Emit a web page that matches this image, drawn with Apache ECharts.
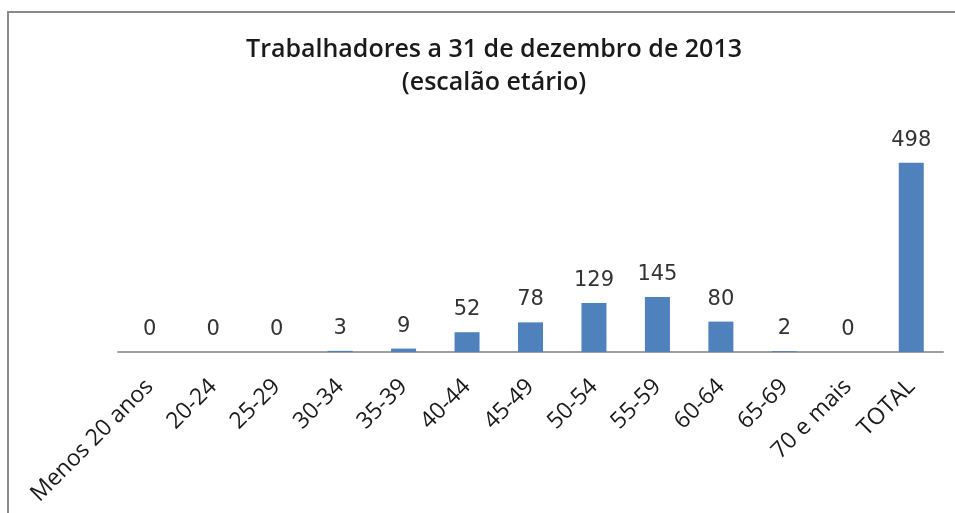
<!DOCTYPE html>
<html><head><meta charset="utf-8">
<script src="https://cdn.jsdelivr.net/npm/echarts@6/dist/echarts.min.js"></script>
<style>html,body{margin:0;padding:0;background:#fff}#c{width:955px;height:513px}</style>
</head><body><div id="c"></div>
<script>
const categories = ['Menos 20 anos','20-24','25-29','30-34','35-39','40-44','45-49','50-54','55-59','60-64','65-69','70 e mais','TOTAL'];
const values = [0,0,0,3,9,52,78,129,145,80,2,0,498];
const titleLines = ['Trabalhadores a 31 de dezembro de 2013','(escalão etário)'];

const chart = echarts.init(document.getElementById('c'));
chart.setOption({
  animation:false,
  graphic:[{type:'rect',shape:{x:8,y:12,width:960,height:520},style:{fill:'none',stroke:'#8a8a8a',lineWidth:2}}],
  title:{text:titleLines.join('\n'),left:489,textAlign:'center',top:28,
    textStyle:{fontFamily:'Open Sans',fontWeight:600,fontSize:25,color:'#1a1a1a',lineHeight:33}},
  grid:{left:118,right:12,top:124,bottom:161},
  xAxis:{type:'category',data:categories,
    axisLine:{lineStyle:{color:'#a0a0a0',width:2}},axisTick:{show:false},
    axisLabel:{rotate:45,interval:0,margin:31,fontFamily:'Open Sans',fontSize:23,color:'#1a1a1a'}},
  yAxis:{type:'value',min:0,max:600,show:false,splitLine:{show:false}},
  series:[{type:'bar',data:values,barWidth:25,itemStyle:{color:'#4F81BD'},
    label:{show:true,position:'top',distance:12,fontFamily:'DejaVu Sans',fontSize:21,color:'#333'}}]
});
</script></body></html>
